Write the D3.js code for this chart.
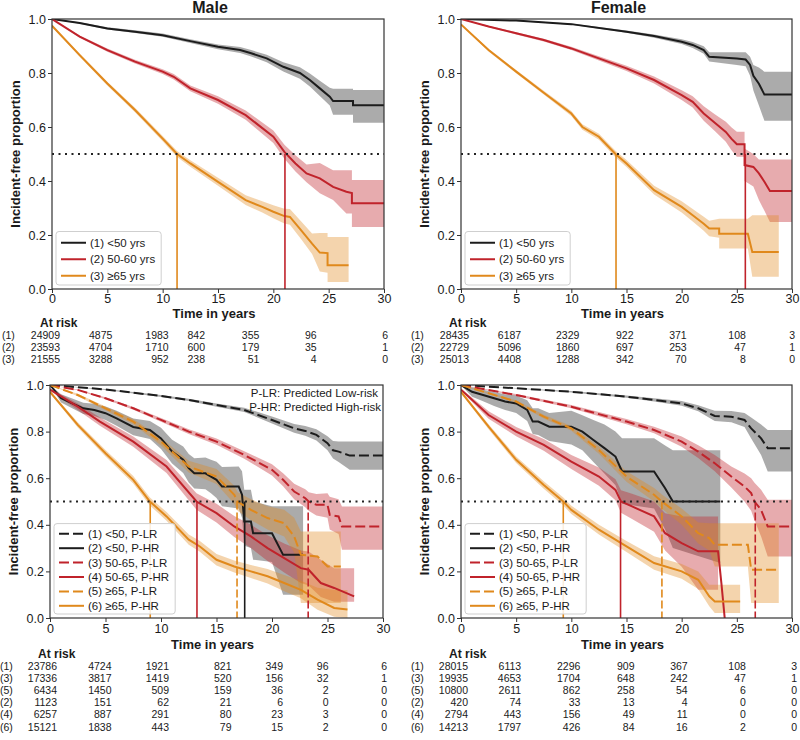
<!DOCTYPE html>
<html>
<head>
<meta charset="utf-8">
<script src="https://cdn.jsdelivr.net/npm/d3@7"></script>
<style>
  body { margin: 0; background: #fff; }
  svg text { font-family: "Liberation Sans", Arial, sans-serif; fill: #1a1a1a; }
</style>
</head>
<body>
<svg id="chart" width="800" height="740"></svg>
<script>
// ---- data: [time, survival, lower CI, upper CI] ----
const timeTicks = [0, 5, 10, 15, 20, 25, 30];
const survTicks = [0, 0.2, 0.4, 0.6, 0.8, 1.0];

const ageLabels = [`(1) <50 yrs`, `(2) 50-60 yrs`, `(3) ≥65 yrs`];
const riskLabels = [`(1) <50, P-LR`, `(2) <50, P-HR`, `(3) 50-65, P-LR`, `(4) 50-65, P-HR`, `(5) ≥65, P-LR`, `(6) ≥65, P-HR`];
const ageRows = [`(1)`, `(2)`, `(3)`];
const riskRows = [`(1)`, `(3)`, `(5)`, `(2)`, `(4)`, `(6)`];
const riskNotes = [`P-LR: Predicted Low-risk`, `P-HR: Predicted High-risk`];

const maleLt50 = [[0,1,1,1],[2.5,0.985,0.982,0.988],[5,0.965,0.961,0.969],[7.5,0.953,0.948,0.958],[10,0.94,0.934,0.946],[12.5,0.918,0.911,0.925],[15,0.897,0.888,0.906],[17,0.885,0.874,0.896],[18,0.873,0.861,0.885],[19.4,0.854,0.84,0.868],[20.9,0.823,0.806,0.84],[22.4,0.8,0.779,0.821],[23.3,0.774,0.75,0.798],[24.2,0.743,0.715,0.771],[25.1,0.712,0.68,0.745],[25.4,0.696,0.645,0.742],[27.2,0.696,0.645,0.742],[27.2,0.681,0.616,0.737],[30,0.681,0.616,0.737]];
const male50to60 = [[0,1,1,1],[2.5,0.935,0.931,0.939],[5,0.885,0.879,0.891],[7.5,0.842,0.835,0.849],[10,0.805,0.796,0.814],[11,0.786,0.776,0.796],[12.5,0.743,0.732,0.754],[15,0.7,0.686,0.714],[17.5,0.644,0.627,0.661],[20,0.564,0.541,0.587],[21,0.508,0.482,0.534],[22,0.465,0.435,0.495],[23,0.428,0.395,0.461],[24.2,0.41,0.355,0.467],[25.4,0.378,0.33,0.44],[26.6,0.36,0.28,0.44],[27.1,0.355,0.28,0.44],[27.1,0.318,0.23,0.404],[30,0.318,0.23,0.404]];
const maleGe65 = [[0,0.975,0.971,0.979],[2.5,0.866,0.86,0.872],[5,0.761,0.754,0.768],[7.5,0.663,0.655,0.671],[10,0.557,0.547,0.567],[11.3,0.5,0.489,0.511],[12.5,0.465,0.453,0.477],[15,0.397,0.382,0.412],[17.5,0.329,0.311,0.347],[19,0.304,0.283,0.325],[20,0.286,0.262,0.31],[21,0.27,0.243,0.297],[21.5,0.267,0.238,0.296],[22.5,0.218,0.185,0.251],[23.5,0.168,0.13,0.206],[24.2,0.135,0.065,0.207],[24.9,0.133,0.06,0.207],[24.9,0.088,0.026,0.193],[26.8,0.088,0.026,0.193]];

const femaleLt50 = [[0,1,1,1],[5,0.994,0.993,0.995],[10,0.981,0.979,0.983],[15,0.953,0.949,0.957],[17.5,0.937,0.931,0.943],[20,0.916,0.907,0.925],[21,0.904,0.893,0.915],[22,0.885,0.871,0.899],[22.5,0.86,0.843,0.877],[25,0.854,0.83,0.877],[25.8,0.85,0.825,0.877],[26.2,0.83,0.79,0.86],[26.5,0.79,0.735,0.83],[27,0.76,0.68,0.82],[27.5,0.72,0.623,0.805],[30,0.72,0.623,0.805]];
const female50to60 = [[0,1,1,1],[2.5,0.972,0.969,0.975],[5,0.947,0.943,0.951],[7.5,0.922,0.917,0.927],[10,0.891,0.885,0.897],[12.5,0.854,0.846,0.862],[15,0.817,0.807,0.827],[17.5,0.774,0.761,0.787],[20,0.718,0.7,0.736],[21,0.693,0.672,0.714],[22,0.65,0.623,0.677],[23,0.616,0.585,0.647],[24,0.582,0.545,0.619],[24.5,0.557,0.515,0.599],[25,0.536,0.49,0.582],[25.7,0.536,0.49,0.582],[25.7,0.459,0.4,0.52],[26.5,0.452,0.38,0.5],[27,0.428,0.33,0.48],[27.5,0.397,0.29,0.48],[28,0.363,0.248,0.48],[30,0.363,0.248,0.48]];
const femaleGe65 = [[0,0.98,0.978,0.982],[2.5,0.885,0.88,0.89],[5,0.805,0.799,0.811],[7.5,0.727,0.72,0.734],[10,0.65,0.641,0.659],[11,0.6,0.59,0.61],[12.5,0.564,0.553,0.575],[14,0.5,0.488,0.512],[15,0.465,0.452,0.478],[17.5,0.366,0.35,0.382],[20,0.304,0.283,0.325],[21,0.273,0.25,0.296],[22,0.242,0.216,0.268],[22.5,0.224,0.195,0.253],[23.4,0.224,0.19,0.26],[23.4,0.205,0.15,0.26],[26,0.205,0.15,0.26],[26.4,0.137,0.045,0.273],[28.8,0.137,0.045,0.273]];

const maleLt50LR = [[0,1,1,1],[5,0.981,0.979,0.983],[10,0.953,0.949,0.957],[12.5,0.936,0.931,0.941],[15,0.914,0.907,0.921],[17.5,0.893,0.884,0.902],[20,0.85,0.835,0.865],[22,0.814,0.795,0.833],[23,0.803,0.782,0.824],[24,0.786,0.762,0.81],[25,0.75,0.72,0.78],[25.5,0.72,0.685,0.76],[26,0.714,0.67,0.757],[27,0.697,0.636,0.757],[30,0.697,0.636,0.757]];
const maleLt50HR = [[0,1,1,1],[1,0.943,0.925,0.96],[2,0.921,0.9,0.942],[3,0.9,0.876,0.924],[4,0.893,0.867,0.919],[5,0.879,0.85,0.908],[6,0.857,0.825,0.889],[7.5,0.82,0.784,0.856],[9,0.807,0.768,0.846],[10,0.771,0.725,0.817],[11,0.714,0.663,0.765],[12,0.679,0.622,0.736],[12.5,0.643,0.582,0.704],[13,0.621,0.556,0.686],[14,0.621,0.553,0.689],[14.5,0.607,0.535,0.679],[15,0.593,0.515,0.671],[15.5,0.564,0.48,0.648],[17,0.564,0.47,0.65],[17.3,0.529,0.43,0.63],[17.5,0.414,0.31,0.55],[18.1,0.414,0.3,0.55],[18.3,0.364,0.25,0.5],[20,0.364,0.24,0.48],[21,0.271,0.1,0.48],[22.8,0.271,0.1,0.48]];
const male50to65LR = [[0,1,1,1],[2.5,0.979,0.977,0.981],[5,0.943,0.939,0.947],[7.5,0.9,0.894,0.906],[10,0.85,0.842,0.858],[12.5,0.8,0.79,0.81],[15,0.757,0.744,0.77],[17.5,0.7,0.684,0.716],[20,0.636,0.612,0.66],[21,0.593,0.565,0.621],[22,0.543,0.51,0.576],[23,0.514,0.475,0.553],[23.3,0.5,0.46,0.54],[24,0.486,0.44,0.532],[25,0.486,0.43,0.535],[25.2,0.443,0.38,0.52],[26,0.436,0.36,0.51],[26.3,0.393,0.293,0.479],[30,0.393,0.293,0.479]];
const male50to65HR = [[0,0.98,0.975,0.985],[2.5,0.907,0.893,0.921],[4.5,0.843,0.825,0.861],[7.5,0.757,0.735,0.779],[10.5,0.65,0.622,0.678],[13.2,0.5,0.465,0.535],[15,0.45,0.41,0.49],[16.6,0.393,0.348,0.438],[18.1,0.35,0.3,0.4],[19.6,0.3,0.245,0.355],[21.1,0.257,0.195,0.32],[22.6,0.214,0.15,0.29],[23.3,0.207,0.14,0.285],[24.4,0.15,0.09,0.25],[25.6,0.129,0.07,0.214],[27.4,0.093,0.07,0.214]];
const maleGe65LR = [[0,1,1,1],[2.5,0.957,0.952,0.962],[5,0.9,0.892,0.908],[7.5,0.843,0.832,0.854],[10,0.757,0.74,0.774],[12.5,0.65,0.625,0.675],[15,0.607,0.575,0.64],[16.6,0.529,0.49,0.568],[16.9,0.5,0.46,0.54],[18.1,0.464,0.42,0.51],[19.6,0.429,0.38,0.48],[21.1,0.407,0.35,0.465],[22,0.35,0.28,0.43],[22.6,0.271,0.064,0.371],[24.1,0.264,0.064,0.371],[25,0.221,0.064,0.371],[26.2,0.221,0.064,0.371]];
const maleGe65HR = [[0,0.97,0.965,0.975],[2.5,0.829,0.818,0.84],[5,0.707,0.693,0.721],[7.5,0.593,0.577,0.609],[9,0.5,0.483,0.517],[10.5,0.436,0.417,0.455],[12.5,0.336,0.314,0.358],[13.5,0.307,0.284,0.33],[15,0.25,0.225,0.275],[16.6,0.221,0.195,0.247],[18.1,0.2,0.172,0.228],[19.6,0.179,0.148,0.21],[21.1,0.15,0.115,0.185],[22.6,0.121,0.085,0.16],[24.1,0.079,0.035,0.13],[25.6,0.043,0.005,0.12],[26.8,0.036,0,0.12]];

const femaleLt50LR = [[0,1,1,1],[5,0.986,0.985,0.987],[10,0.971,0.968,0.974],[15,0.95,0.945,0.955],[17.5,0.936,0.929,0.943],[20,0.921,0.911,0.931],[21.5,0.9,0.887,0.913],[23,0.867,0.845,0.889],[24.5,0.864,0.84,0.888],[25.7,0.85,0.82,0.88],[26.3,0.814,0.77,0.86],[27.2,0.771,0.7,0.83],[27.8,0.729,0.629,0.807],[30,0.729,0.629,0.807]];
const femaleLt50HR = [[0,1,1,1],[1,0.971,0.95,0.99],[2,0.957,0.93,0.98],[3,0.943,0.91,0.97],[4,0.929,0.893,0.96],[5,0.921,0.88,0.955],[6,0.893,0.845,0.935],[6.5,0.843,0.79,0.9],[7,0.843,0.785,0.9],[8,0.821,0.76,0.88],[10,0.821,0.745,0.89],[11,0.8,0.72,0.87],[12,0.764,0.67,0.85],[13,0.729,0.62,0.83],[14,0.693,0.57,0.8],[14.6,0.629,0.49,0.771],[17.5,0.629,0.47,0.771],[18.5,0.557,0.38,0.74],[19.2,0.5,0.3,0.72],[23.5,0.5,0.236,0.72]];
const female50to65LR = [[0,1,1,1],[5,0.957,0.953,0.961],[10,0.907,0.9,0.914],[15,0.843,0.832,0.854],[17.5,0.807,0.793,0.821],[20,0.757,0.735,0.779],[21.5,0.714,0.687,0.741],[23,0.664,0.63,0.7],[24.5,0.607,0.56,0.65],[25.7,0.564,0.5,0.62],[26.3,0.536,0.46,0.6],[26.6,0.5,0.42,0.58],[27.2,0.464,0.35,0.55],[27.8,0.393,0.264,0.507],[30,0.393,0.264,0.507]];
const female50to65HR = [[0,0.98,0.975,0.985],[2.5,0.871,0.855,0.887],[5,0.8,0.78,0.82],[7.5,0.743,0.718,0.768],[10,0.671,0.64,0.7],[12.5,0.607,0.568,0.646],[14,0.55,0.505,0.595],[14.5,0.5,0.452,0.548],[15.5,0.479,0.425,0.533],[17.5,0.436,0.37,0.5],[18.5,0.364,0.29,0.45],[20,0.321,0.22,0.436],[21.5,0.286,0.121,0.436],[23.3,0.286,0.121,0.436],[23.6,0.15,null,null],[23.9,0,null,null]];
const femaleGe65LR = [[0,1,1,1],[5,0.929,0.923,0.935],[7.5,0.864,0.856,0.872],[10,0.814,0.804,0.824],[12.5,0.721,0.705,0.737],[15,0.607,0.585,0.63],[17.5,0.529,0.5,0.558],[18.2,0.5,0.47,0.53],[20,0.436,0.4,0.47],[21.5,0.364,0.32,0.41],[22.5,0.343,0.29,0.407],[23,0.314,0.221,0.407],[26,0.314,0.221,0.407],[26.3,0.207,0.064,0.407],[28.8,0.207,0.064,0.407]];
const femaleGe65HR = [[0,0.97,0.965,0.975],[2.5,0.821,0.81,0.832],[5,0.679,0.665,0.693],[7.5,0.571,0.555,0.587],[9.27,0.5,0.483,0.517],[10,0.464,0.446,0.482],[12.5,0.379,0.358,0.4],[15,0.307,0.283,0.331],[17.5,0.236,0.207,0.265],[20,0.2,0.168,0.232],[21.5,0.164,0.125,0.2],[22.5,0.093,0.05,0.143],[23,0.071,0.021,0.143],[25.3,0.071,0.021,0.143]];

// median survival times (vertical drop lines), one per series, null = not drawn
const maleMedians = [null, 21.05, 11.3];
const femaleMedians = [null, 25.77, 14.05];
const maleRiskMedians = [null, 17.54, 23.26, 13.24, 16.85, 9.03];
const femaleRiskMedians = [null, null, 26.67, 14.46, 18.21, 9.27];

// numbers at risk at each time tick
const maleAtRisk = [[24909,4875,1983,842,355,96,6],[23593,4704,1710,600,179,35,1],[21555,3288,952,238,51,4,0]];
const femaleAtRisk = [[28435,6187,2329,922,371,108,3],[22729,5096,1860,697,253,47,1],[25013,4408,1288,342,70,8,0]];
const maleRiskAtRisk = [[23786,4724,1921,821,349,96,6],[17336,3817,1419,520,156,32,1],[6434,1450,509,159,36,2,0],[1123,151,62,21,6,0,0],[6257,887,291,80,23,3,0],[15121,1838,443,79,15,2,0]];
const femaleRiskAtRisk = [[28015,6113,2296,909,367,108,3],[19935,4653,1704,648,242,47,1],[10800,2611,862,258,54,6,0],[420,74,33,13,4,0,0],[2794,443,156,49,11,0,0],[14213,1797,426,84,16,2,0]];

// ---- styles ----
const colors = {k: `#1c1c1c`, r: `#c0232b`, o: `#e0891c`};
const bandOpacity = {k: 0.37, r: 0.38, o: 0.36};
const dashed = `10,4`;

const ageStyles = [{c: `k`}, {c: `r`}, {c: `o`}];
const riskStyles = [{c: `k`, dash: true}, {c: `k`}, {c: `r`, dash: true}, {c: `r`}, {c: `o`, dash: true}, {c: `o`}];

const panels = [
  {left: 52, top: 19, width: 332, height: 270, title: `Male`,
    series: [maleLt50, male50to60, maleGe65], styles: ageStyles, labels: ageLabels, medians: maleMedians,
    atRisk: maleAtRisk, rows: ageRows, nudge: [1, -2, -1, -20, -21, -19, -3],
    tickBase: 303, timeBase: 318, riskBase: 326.5, rowBase: 339, rowStep: 12.1, legendStep: 16.5},
  {left: 461, top: 19, width: 331, height: 270, title: `Female`,
    series: [femaleLt50, female50to60, femaleGe65], styles: ageStyles, labels: ageLabels, medians: femaleMedians,
    atRisk: femaleAtRisk, rows: ageRows, nudge: [1, -2, 1, 0, -2, 2, -4],
    tickBase: 303, timeBase: 318, riskBase: 326.5, rowBase: 339, rowStep: 12.1, legendStep: 16.5},
  {left: 50, top: 385, width: 333, height: 233, note: riskNotes,
    series: [maleLt50LR, maleLt50HR, male50to65LR, male50to65HR, maleGe65LR, maleGe65HR], styles: riskStyles,
    labels: riskLabels, medians: maleRiskMedians, atRisk: maleRiskAtRisk, rows: riskRows, nudge: [0, -1, 1, 8, 4, -6, -3],
    tickBase: 633, timeBase: 648.5, riskBase: 657.5, rowBase: 670, rowStep: 12.1, legendStep: 14.4},
  {left: 461, top: 385, width: 331, height: 233,
    series: [femaleLt50LR, femaleLt50HR, female50to65LR, female50to65HR, femaleGe65LR, femaleGe65HR], styles: riskStyles,
    labels: riskLabels, medians: femaleRiskMedians, atRisk: femaleRiskAtRisk, rows: riskRows, nudge: [0, -2, 2, 1, -1, 2, -2],
    tickBase: 633, timeBase: 648.5, riskBase: 657.5, rowBase: 670, rowStep: 12.1, legendStep: 14.4},
];

const svg = d3.select(`#chart`);

panels.forEach((p, pi) => {
  const x = d3.scaleLinear().domain([0, 30]).range([p.left, p.left + p.width]);
  const y = d3.scaleLinear().domain([0, 1]).range([p.top + p.height, p.top]);

  const clipId = `clip${pi}`;
  svg.append(`clipPath`).attr(`id`, clipId)
    .append(`rect`)
      .attr(`x`, p.left).attr(`y`, p.top)
      .attr(`width`, p.width).attr(`height`, p.height);

  const g = svg.append(`g`).attr(`clip-path`, `url(#${clipId})`);

  const band = d3.area()
    .defined(d => d[2] !== null)
    .x(d => x(d[0]))
    .y0(d => y(d[2]))
    .y1(d => y(d[3]));

  const line = d3.line()
    .x(d => x(d[0]))
    .y(d => y(d[1]));

  // confidence bands
  p.series.forEach((data, i) => {
    const st = p.styles[i];
    g.append(`path`)
      .attr(`d`, band(data))
      .attr(`fill`, colors[st.c])
      .attr(`fill-opacity`, bandOpacity[st.c]);
  });

  // survival curves
  p.series.forEach((data, i) => {
    const st = p.styles[i];
    g.append(`path`)
      .attr(`d`, line(data))
      .attr(`fill`, `none`)
      .attr(`stroke`, colors[st.c])
      .attr(`stroke-width`, 2)
      .attr(`stroke-dasharray`, st.dash ? dashed : null);
  });

  // median drop lines
  p.medians.forEach((m, i) => {
    if (m === null) return;
    const st = p.styles[i];
    g.append(`line`)
      .attr(`x1`, x(m)).attr(`x2`, x(m))
      .attr(`y1`, y(0.5)).attr(`y2`, y(0))
      .attr(`stroke`, colors[st.c])
      .attr(`stroke-width`, 1.6)
      .attr(`stroke-dasharray`, st.dash ? `8,3` : null);
  });

  // 50% reference line
  g.append(`line`)
    .attr(`x1`, x(0)).attr(`x2`, x(30))
    .attr(`y1`, y(0.5)).attr(`y2`, y(0.5))
    .attr(`stroke`, `#222`)
    .attr(`stroke-width`, 1.8)
    .attr(`stroke-dasharray`, `2,4.5`);

  // axes
  const xAxis = svg.append(`g`)
    .attr(`transform`, `translate(0,${p.top + p.height})`)
    .call(d3.axisBottom(x).tickValues(timeTicks).tickSize(4).tickPadding(3).tickFormat(d3.format(`d`)));
  const yAxis = svg.append(`g`)
    .attr(`transform`, `translate(${p.left},0)`)
    .call(d3.axisLeft(y).tickValues(survTicks).tickSize(4).tickPadding(2).tickFormat(d3.format(`.1f`)));
  [xAxis, yAxis].forEach(a => {
    a.select(`.domain`).remove();
    a.selectAll(`.tick line`).attr(`stroke`, `#333`);
    a.selectAll(`text`).attr(`font-size`, 12.5).attr(`fill`, `#1a1a1a`)
      .style(`font-family`, `"Liberation Sans", Arial, sans-serif`);
  });
  xAxis.selectAll(`text`).attr(`dy`, null).attr(`y`, p.tickBase - p.top - p.height);

  svg.append(`rect`)
    .attr(`x`, p.left).attr(`y`, p.top)
    .attr(`width`, p.width).attr(`height`, p.height)
    .attr(`fill`, `none`).attr(`stroke`, `#333`).attr(`stroke-width`, 1.2);

  // titles
  if (p.title) {
    svg.append(`text`)
      .attr(`x`, p.left + p.width / 2 - 8).attr(`y`, 13)
      .attr(`text-anchor`, `middle`).attr(`font-size`, 16).attr(`font-weight`, `bold`)
      .text(p.title);
  }
  svg.append(`text`)
    .attr(`transform`, `translate(${p.left - 32},${p.top + p.height / 2}) rotate(-90)`)
    .attr(`text-anchor`, `middle`).attr(`font-size`, 13).attr(`font-weight`, `bold`)
    .text(`Incident-free proportion`);
  svg.append(`text`)
    .attr(`x`, p.left + p.width / 2 - 4).attr(`y`, p.timeBase)
    .attr(`text-anchor`, `middle`).attr(`font-size`, 13).attr(`font-weight`, `bold`)
    .text(`Time in years`);

  // note
  if (p.note) {
    p.note.forEach((t, i) => {
      svg.append(`text`)
        .attr(`x`, p.left + p.width - 5 + i * 3).attr(`y`, p.top + 12 + i * 13.5)
        .attr(`text-anchor`, `end`).attr(`font-size`, 11.5)
        .text(t);
    });
  }

  // legend
  const n = p.labels.length;
  const boxX = p.left + 4;
  const boxH = n * p.legendStep + 4;
  const boxY = p.top + p.height - 4 - boxH;
  const leg = svg.append(`g`);
  const box = leg.append(`rect`)
    .attr(`x`, boxX).attr(`y`, boxY).attr(`height`, boxH).attr(`rx`, 3)
    .attr(`fill`, `#fff`).attr(`fill-opacity`, 0.85)
    .attr(`stroke`, `#cfcfcf`).attr(`stroke-width`, 1);
  let maxW = 0;
  p.labels.forEach((lab, i) => {
    const st = p.styles[i];
    const cy = boxY + 2 + p.legendStep * (i + 0.5) + 1;
    leg.append(`line`)
      .attr(`x1`, boxX + 5).attr(`x2`, boxX + 30)
      .attr(`y1`, cy).attr(`y2`, cy)
      .attr(`stroke`, colors[st.c]).attr(`stroke-width`, 2)
      .attr(`stroke-dasharray`, st.dash ? dashed : null);
    const t = leg.append(`text`)
      .attr(`x`, boxX + 34).attr(`y`, cy + 4)
      .attr(`font-size`, 11.5)
      .text(lab);
    maxW = Math.max(maxW, t.node().getComputedTextLength());
  });
  box.attr(`width`, 34 + maxW + 6);

  // at-risk table
  svg.append(`text`)
    .attr(`x`, p.left - 12).attr(`y`, p.riskBase)
    .attr(`font-size`, 12).attr(`font-weight`, `bold`)
    .text(`At risk`);
  p.atRisk.forEach((row, i) => {
    const by = p.rowBase + i * p.rowStep;
    svg.append(`text`)
      .attr(`x`, p.left - 50).attr(`y`, by)
      .attr(`font-size`, 10.5)
      .text(p.rows[i]);
    row.forEach((v, j) => {
      svg.append(`text`)
        .attr(`x`, x(timeTicks[j]) + 7 + p.nudge[j]).attr(`y`, by)
        .attr(`text-anchor`, `end`).attr(`font-size`, 10.5)
        .text(v);
    });
  });
});
</script>
</body>
</html>
